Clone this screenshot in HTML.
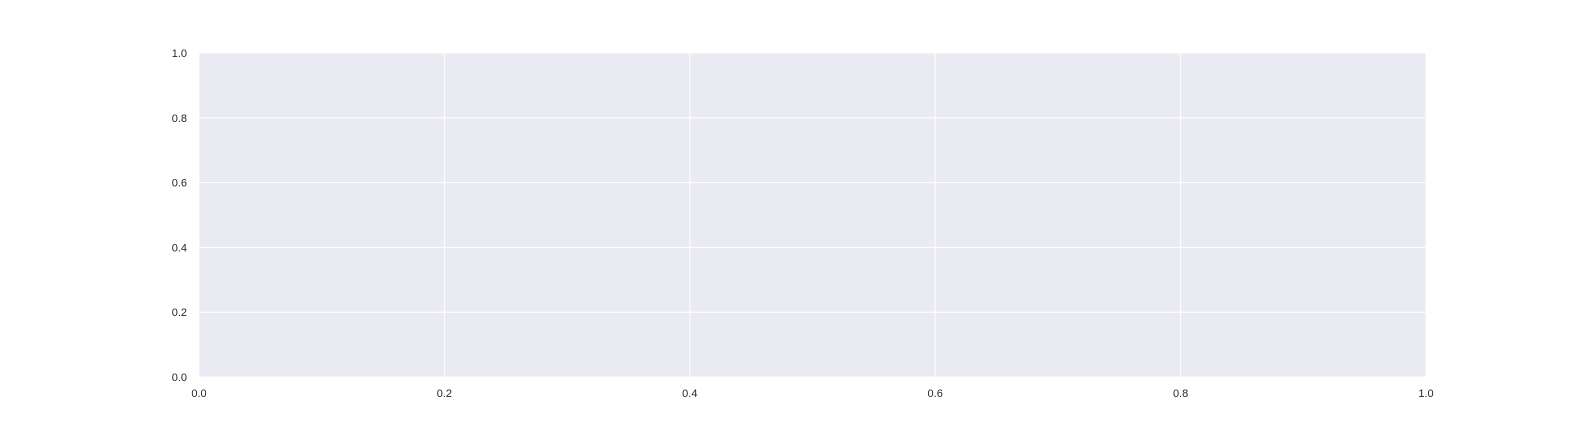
<!DOCTYPE html>
<html><head><meta charset="utf-8"><style>
html,body{margin:0;padding:0;background:#fff;width:1584px;height:432px;overflow:hidden;}
svg{display:block;font-family:"Liberation Sans","DejaVu Sans",sans-serif;}
</style></head><body>
<svg id="chart" width="1584" height="432" viewBox="0 0 1584 432" xmlns="http://www.w3.org/2000/svg">
<rect x="199" y="53" width="1227" height="324" fill="#EAEAF2"/>
<g id="grid"></g>
<g id="xticks"></g>
<g id="yticks"></g>
</svg>
<script>
const xTicks = [0.0, 0.2, 0.4, 0.6, 0.8, 1.0];
const yTicks = [0.0, 0.2, 0.4, 0.6, 0.8, 1.0];
const NS = "http://www.w3.org/2000/svg";
const L = 199, R = 1426, T = 53, B = 377;
const xs = v => L + v * (R - L);
const ys = v => B - v * (B - T);
const grid = document.getElementById('grid');
const gx = document.getElementById('xticks');
const gy = document.getElementById('yticks');
xTicks.forEach(v => {
  const ln = document.createElementNS(NS, 'line');
  
  
  ln.setAttribute('x1', xs(v)); ln.setAttribute('x2', xs(v));
  ln.setAttribute('y1', T); ln.setAttribute('y2', B);
  ln.setAttribute('stroke', '#fff'); ln.setAttribute('stroke-width', '1');
  grid.appendChild(ln);
  const t = document.createElementNS(NS, 'text');
  
  
  t.setAttribute('x', xs(v)); t.setAttribute('y', B + 20);
  t.setAttribute('text-anchor', 'middle'); t.setAttribute('font-size', '11');
  t.setAttribute('fill', '#262626');
  t.textContent = v.toFixed(1);
  gx.appendChild(t);
});
yTicks.forEach(v => {
  const ln = document.createElementNS(NS, 'line');
  
  
  ln.setAttribute('x1', L); ln.setAttribute('x2', R);
  ln.setAttribute('y1', ys(v)); ln.setAttribute('y2', ys(v));
  ln.setAttribute('stroke', '#fff'); ln.setAttribute('stroke-width', '1');
  grid.appendChild(ln);
  const t = document.createElementNS(NS, 'text');
  
  
  t.setAttribute('x', L - 12); t.setAttribute('y', ys(v) + 4);
  t.setAttribute('text-anchor', 'end'); t.setAttribute('font-size', '11');
  t.setAttribute('fill', '#262626');
  t.textContent = v.toFixed(1);
  gy.appendChild(t);
});
</script>
</body></html>
